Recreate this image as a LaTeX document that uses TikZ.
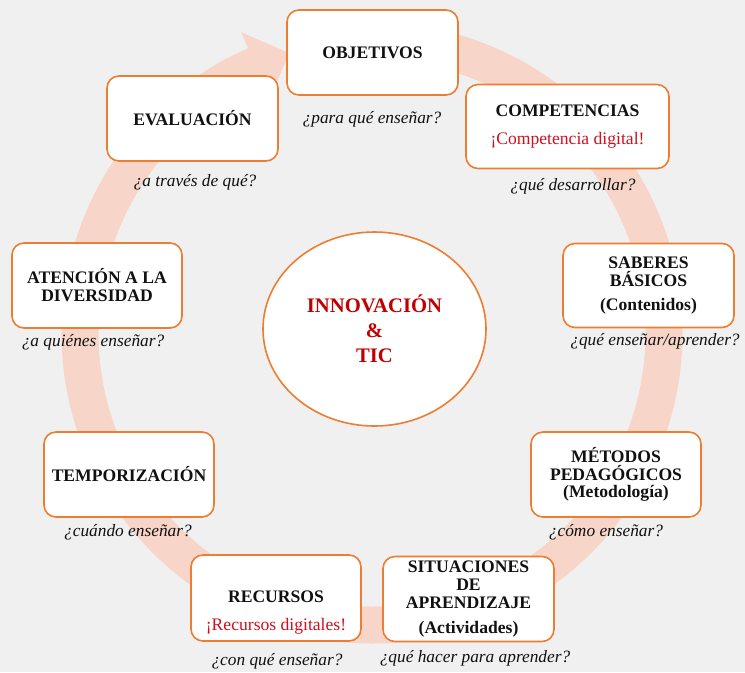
\documentclass[tikz,border=0pt]{standalone}
\usepackage{fontspec}
\setmainfont{Liberation Serif}
\usetikzlibrary{calc,shapes.geometric}
\definecolor{bgc}{HTML}{F0F0F0}
\definecolor{bandc}{HTML}{F7D5C8}
\definecolor{orc}{HTML}{ED7D31}
\definecolor{redt}{HTML}{C00000}
\definecolor{redl}{HTML}{D0101E}
\definecolor{txt}{HTML}{111111}
\tikzset{
  stepbox/.style={draw=orc, line width=1.2pt, fill=white, rounded corners=9pt,
    inner sep=0pt, align=center, text=txt,
    font=\fontsize{13.2pt}{13.4pt}\selectfont\bfseries},
  boxtext/.style={inner sep=0pt, align=center, text=txt,
    font=\fontsize{13.2pt}{13.4pt}\selectfont\bfseries},
  quest/.style={anchor=base, inner sep=0pt, text=txt,
    font=\fontsize{13pt}{13.4pt}\selectfont\itshape},
  band/.style={draw=bandc, line width=27.75pt},
}
\begin{document}
\begin{tikzpicture}[x=0.75pt, y=-0.75pt]
\fill[bgc] (0,0) rectangle (745,672);
\useasboundingbox (0,0) rectangle (745,672);
% circular arrow
\coordinate (ring) at (372,333);
\draw[band] ($(ring)+(90:219pt)$) arc[start angle=90, end angle=-247, radius=219pt];
\fill[bandc] ($(ring)+(113.5:246pt)$) -- ($(ring)+(106.5:219pt)$) -- ($(ring)+(113.5:192pt)$) -- cycle;
% centre
\node[ellipse, draw=orc, line width=1.2pt, fill=white, minimum width=167.25pt, minimum height=145.5pt,
  inner sep=0pt, align=center, text=redt, font=\fontsize{15.5pt}{18.75pt}\selectfont\bfseries]
  (core) at (374.5,329) {INNOVACIÓN\\\&\\TIC};
% boxes
\node[stepbox, minimum width=128.25pt, minimum height=63.75pt] (obj) at (372.5,52.5) {OBJETIVOS};
\node[stepbox, minimum width=152.25pt, minimum height=63pt] (comp) at (567.5,126.5)
  {COMPETENCIAS\\[7.6pt]\textcolor{redl}{\mdseries ¡Competencia digital!}};
\node[stepbox, minimum width=128.25pt, minimum height=63.75pt] (eval) at (192.5,118.5) {EVALUACIÓN};
\node[stepbox, minimum width=127.5pt, minimum height=63.75pt] (aten) at (97,285.5) {ATENCIÓN A LA\\DIVERSIDAD};
\node[stepbox, minimum width=128.25pt, minimum height=63pt] (sab) at (648.5,285.5)
  {SABERES\\BÁSICOS\\[4.6pt](Contenidos)};
\node[stepbox, minimum width=127.5pt, minimum height=63.75pt] (met) at (616,474.5)
  {MÉTODOS\\PEDAGÓGICOS\\(Metodología)};
\node[stepbox, minimum width=127.5pt, minimum height=63.75pt] (temp) at (129,474.5) {TEMPORIZACIÓN};
\node[stepbox, minimum width=127.5pt, minimum height=64.5pt] (rec) at (276,598) {};
\node[boxtext] (rect) at (276,613) {RECURSOS\\[7.6pt]\textcolor{redl}{\mdseries ¡Recursos digitales!}};
\node[stepbox, minimum width=128.25pt, minimum height=63.75pt] (sit) at (468.5,599)
  {SITUACIONES\\DE\\APRENDIZAJE\\[5.3pt](Actividades)};
% questions
\node[quest] (qobj) at (372,123) {¿para qué enseñar?};
\node[quest] (qcomp) at (573,190) {¿qué desarrollar?};
\node[quest] (qeval) at (195,186) {¿a través de qué?};
\node[quest] (qaten) at (93,346.5) {¿a quiénes enseñar?};
\node[quest] (qsab) at (655,345) {¿qué enseñar/aprender?};
\node[quest] (qmet) at (606,536.5) {¿cómo enseñar?};
\node[quest] (qtemp) at (128,536.5) {¿cuándo enseñar?};
\node[quest] (qrec) at (277,665) {¿con qué enseñar?};
\node[quest] (qsit) at (475,662.5) {¿qué hacer para aprender?};
\end{tikzpicture}
\end{document}
